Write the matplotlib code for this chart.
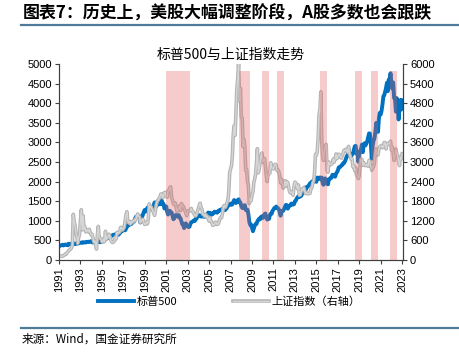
import numpy as np
import matplotlib
matplotlib.use("Agg")
import matplotlib.pyplot as plt
from matplotlib.legend_handler import HandlerTuple

plt.rcParams["font.family"] = ["Liberation Sans", "Noto Sans CJK SC", "DejaVu Sans"]
CJK = ["Noto Sans CJK SC", "DejaVu Sans"]

START_YEAR = 1991  # monthly values, first = Jan 1991

# S&P 500, month-end (left axis)
sp500 = [
    343, 367, 375, 375, 390, 371, 387, 395, 388, 392, 375, 417,        # 1991
    409, 412, 404, 415, 415, 408, 424, 414, 418, 419, 431, 436,        # 1992
    439, 443, 452, 440, 450, 451, 448, 464, 459, 468, 462, 466,        # 1993
    482, 467, 446, 451, 457, 444, 458, 475, 463, 472, 454, 459,        # 1994
    470, 487, 501, 515, 533, 545, 562, 562, 584, 582, 605, 616,        # 1995
    636, 640, 646, 654, 669, 671, 640, 652, 687, 705, 757, 741,        # 1996
    786, 791, 757, 801, 848, 885, 954, 899, 947, 915, 955, 970,        # 1997
    980, 1049, 1102, 1112, 1091, 1134, 1121, 957, 1017, 1099, 1164, 1229,   # 1998
    1280, 1238, 1286, 1335, 1302, 1373, 1329, 1320, 1283, 1363, 1389, 1469,  # 1999
    1394, 1366, 1499, 1452, 1421, 1455, 1431, 1518, 1437, 1429, 1315, 1320,  # 2000
    1366, 1240, 1160, 1249, 1256, 1224, 1211, 1134, 1041, 1060, 1139, 1148,  # 2001
    1130, 1107, 1147, 1077, 1067, 990, 912, 916, 815, 886, 936, 880,         # 2002
    856, 841, 848, 917, 964, 975, 990, 1008, 996, 1051, 1058, 1112,          # 2003
    1131, 1145, 1126, 1107, 1121, 1141, 1102, 1104, 1115, 1130, 1174, 1212,  # 2004
    1181, 1204, 1181, 1157, 1192, 1191, 1234, 1220, 1229, 1207, 1249, 1248,  # 2005
    1280, 1281, 1295, 1311, 1270, 1270, 1277, 1304, 1336, 1378, 1401, 1418,  # 2006
    1438, 1407, 1421, 1482, 1531, 1503, 1455, 1474, 1527, 1549, 1481, 1468,  # 2007
    1379, 1331, 1323, 1386, 1400, 1280, 1267, 1283, 1165, 969, 896, 903,     # 2008
    826, 735, 798, 873, 919, 919, 987, 1021, 1057, 1036, 1096, 1115,         # 2009
    1074, 1104, 1169, 1187, 1089, 1031, 1102, 1049, 1141, 1183, 1181, 1258,  # 2010
    1286, 1327, 1326, 1364, 1345, 1321, 1292, 1219, 1131, 1253, 1247, 1258,  # 2011
    1312, 1366, 1408, 1398, 1310, 1362, 1379, 1407, 1441, 1412, 1416, 1426,  # 2012
    1498, 1515, 1569, 1598, 1631, 1606, 1686, 1633, 1682, 1757, 1806, 1848,  # 2013
    1783, 1859, 1872, 1884, 1924, 1960, 1931, 2003, 1972, 2018, 2068, 2059,  # 2014
    1995, 2105, 2068, 2086, 2107, 2063, 2104, 1972, 1920, 2079, 2080, 2044,  # 2015
    1940, 1932, 2060, 2065, 2097, 2099, 2174, 2171, 2168, 2126, 2199, 2239,  # 2016
    2279, 2364, 2363, 2384, 2412, 2423, 2470, 2472, 2519, 2575, 2648, 2674,  # 2017
    2824, 2714, 2641, 2648, 2705, 2718, 2816, 2902, 2914, 2712, 2760, 2507,  # 2018
    2704, 2784, 2834, 2946, 2752, 2942, 2980, 2926, 2977, 3038, 3141, 3231,  # 2019
    3226, 2954, 2585, 2912, 3044, 3100, 3271, 3500, 3363, 3270, 3622, 3756,  # 2020
    3714, 3811, 3973, 4181, 4204, 4298, 4395, 4523, 4308, 4605, 4567, 4766,  # 2021
    4516, 4374, 4530, 4132, 4132, 3785, 4130, 3955, 3586, 3872, 4080, 3840,  # 2022
    4077,                                                                    # 2023
]

# Shanghai Composite, month-end (right axis)
sse = [
    129, 134, 120, 114, 115, 137, 146, 180, 180, 218, 259, 293,        # 1991
    313, 334, 376, 445, 1400, 1170, 1060, 823, 720, 512, 695, 780,     # 1992
    1200, 1540, 925, 1358, 933, 1007, 860, 890, 930, 860, 940, 833,    # 1993
    770, 790, 680, 550, 590, 470, 333, 780, 1030, 700, 670, 648,       # 1994
    560, 550, 650, 560, 880, 630, 700, 710, 790, 720, 610, 555,        # 1995
    537, 550, 580, 700, 650, 850, 820, 830, 860, 1000, 1000, 917,      # 1996
    960, 1000, 1180, 1380, 1480, 1200, 1140, 1180, 1100, 1170, 1150, 1194,  # 1997
    1220, 1200, 1240, 1340, 1410, 1340, 1330, 1150, 1200, 1220, 1250, 1147,  # 1998
    1090, 1100, 1160, 1110, 1280, 1720, 1600, 1640, 1570, 1500, 1440, 1367,  # 1999
    1535, 1714, 1800, 1836, 1894, 1928, 2023, 2021, 1910, 1961, 2070, 2073,  # 2000
    1960, 1920, 2110, 2120, 2215, 2240, 1920, 1834, 1730, 1690, 1750, 1646,  # 2001
    1490, 1530, 1600, 1660, 1510, 1730, 1650, 1650, 1580, 1510, 1440, 1358,  # 2002
    1500, 1500, 1510, 1520, 1580, 1490, 1480, 1420, 1370, 1350, 1400, 1497,  # 2003
    1590, 1675, 1740, 1600, 1560, 1400, 1390, 1340, 1400, 1320, 1340, 1266,  # 2004
    1190, 1300, 1180, 1160, 1060, 1080, 1080, 1160, 1150, 1090, 1100, 1161,  # 2005
    1260, 1300, 1300, 1440, 1640, 1670, 1610, 1660, 1750, 1840, 2100, 2675,  # 2006
    2790, 2880, 3180, 3840, 4110, 3820, 4470, 5220, 5550, 6050, 4870, 5260,  # 2007
    4380, 4350, 3470, 3690, 3430, 2740, 2770, 2400, 2290, 1730, 1870, 1820,  # 2008
    1990, 2080, 2370, 2480, 2630, 2960, 3410, 2670, 2780, 2990, 3190, 3277,  # 2009
    2990, 3050, 3110, 2870, 2590, 2400, 2640, 2640, 2660, 2980, 2820, 2808,  # 2010
    2790, 2900, 2930, 2910, 2740, 2760, 2700, 2570, 2360, 2470, 2330, 2199,  # 2011
    2290, 2430, 2260, 2400, 2370, 2230, 2100, 2050, 2090, 2070, 1980, 2269,  # 2012
    2385, 2365, 2236, 2178, 2300, 1979, 1994, 2098, 2175, 2141, 2220, 2116,  # 2013
    2033, 2056, 2033, 2026, 2039, 2048, 2202, 2217, 2364, 2420, 2683, 3235,  # 2014
    3210, 3310, 3750, 4440, 4610, 5150, 3660, 3200, 3050, 3380, 3450, 3539,  # 2015
    2740, 2690, 3000, 2940, 2920, 2930, 2980, 3090, 3000, 3100, 3250, 3104,  # 2016
    3160, 3240, 3220, 3150, 3120, 3190, 3270, 3360, 3350, 3390, 3320, 3307,  # 2017
    3480, 3260, 3170, 3080, 3100, 2850, 2880, 2730, 2820, 2600, 2590, 2494,  # 2018
    2580, 2940, 3090, 3080, 2900, 2980, 2930, 2890, 2910, 2930, 2870, 3050,  # 2019
    2980, 2880, 2750, 2860, 2850, 2980, 3310, 3400, 3220, 3220, 3390, 3473,  # 2020
    3480, 3510, 3440, 3450, 3600, 3590, 3400, 3540, 3570, 3550, 3560, 3640,  # 2021
    3360, 3460, 3250, 3050, 3190, 3400, 3250, 3200, 3020, 2890, 3150, 3089,  # 2022
    3255,                                                                    # 2023
]

# US drawdown phases (decimal years)
phase_start = [2000.94, 2007.78, 2009.95, 2011.29, 2015.32, 2018.60, 2020.08, 2021.85]
phase_end = [2003.18, 2008.80, 2010.60, 2011.94, 2015.98, 2019.24, 2020.73, 2022.53]
phase_top = 5800  # right-axis units

year_ticks = list(range(1991, 2024, 2))

x_sp = START_YEAR + np.arange(len(sp500)) / 12
x_sse = START_YEAR + np.arange(len(sse)) / 12

fig = plt.figure(figsize=(4.59, 3.54), dpi=100)
ax = fig.add_axes([0.1285, 0.2655, 0.7495, 0.5535])
ax2 = ax.twinx()

blue, = ax.plot(x_sp, sp500, color="#0070C0", lw=2.8, solid_joinstyle="round")
g_out, = ax2.plot(x_sse, sse, color="#B4B4B4", lw=2.6)
g_in, = ax2.plot(x_sse, sse, color="#D6D6D6", lw=1.0)

for s, e in zip(phase_start, phase_end):
    ax2.fill_between([s, e], 0, phase_top, color="#E06060", alpha=0.32, lw=0, zorder=5)

ax.set_xlim(1991, 2023.08)
ax.set_ylim(0, 5000)
ax2.set_ylim(0, 6000)
ax.set_yticks(np.arange(0, 5001, 500))
ax2.set_yticks(np.arange(0, 6001, 600))
ax.set_xticks(year_ticks)
ax.set_xticklabels([str(y) for y in year_ticks], rotation=90)

for a in (ax, ax2):
    a.tick_params(labelsize=8, length=3, width=0.8, color="#404040", pad=2)
    a.spines["top"].set_visible(False)
    for sp in ("left", "right", "bottom"):
        a.spines[sp].set_color("#404040")
        a.spines[sp].set_linewidth(0.8)

ax.set_title("标普500与上证指数走势", family=CJK, fontsize=10, pad=4)

fig.legend([blue, (g_out, g_in)], ["标普500", "上证指数（右轴）"],
           handler_map={tuple: HandlerTuple(ndivide=1)},
           loc="center", bbox_to_anchor=(0.50, 0.148), ncol=2, frameon=False,
           prop={"family": CJK, "size": 8}, handlelength=3.2, handletextpad=0.3,
           columnspacing=5.0)

# header / footer
fig.text(0.050, 0.962, "图表7：历史上，美股大幅调整阶段，A股多数也会跟跌",
         family=CJK, fontsize=12.2, fontweight="bold", va="center")
fig.add_artist(plt.Line2D([0.045, 1.0], [0.928, 0.928], color="#4F7B9A", lw=1.6))
fig.add_artist(plt.Line2D([0.045, 1.0], [0.074, 0.074], color="#4F7B9A", lw=1.6))
fig.text(0.048, 0.042, "来源：Wind，国金证券研究所", family=CJK, fontsize=8.4, va="center")

fig.savefig("out.png", dpi=100)
